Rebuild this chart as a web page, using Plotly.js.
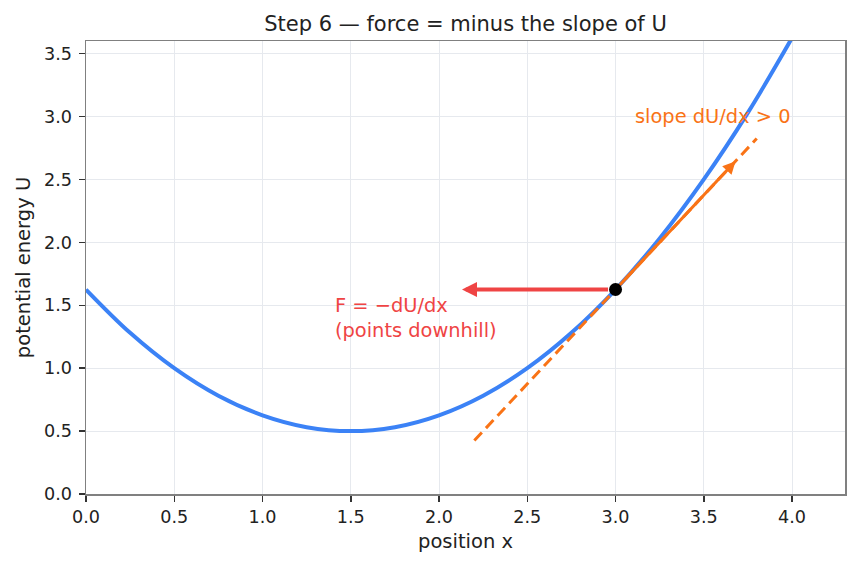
<!DOCTYPE html>
<html>
<head>
<meta charset="utf-8">
<script src="https://cdn.plot.ly/plotly-3.0.1.min.js"></script>
<style>
  html, body { margin: 0; padding: 0; background: #ffffff; }
  #chart { width: 859px; height: 567px; }
</style>
</head>
<body>
<div id="chart"></div>
<script>
// Potential energy curve U(x), sampled every 0.25
const positionX = [0.0, 0.25, 0.5, 0.75, 1.0, 1.25, 1.5, 1.75, 2.0, 2.25, 2.5, 2.75, 3.0, 3.25, 3.5, 3.75, 4.0];
const energyU   = [1.625, 1.281, 1.0, 0.781, 0.625, 0.531, 0.5, 0.531, 0.625, 0.781, 1.0, 1.281, 1.625, 2.031, 2.5, 3.031, 3.625];

// Tangent line at the marked point (slope 1.5)
const tangentX = [2.2, 3.8];
const tangentU = [0.425, 2.825];

// Marked point on the curve
const pointX = [3.0];
const pointU = [1.625];

// Arrow tips: slope direction (along tangent) and force (downhill)
const slopeTip = [3.68, 2.645];
const forceTip = [2.13, 1.625];

// Text labels
const slopeLabel = 'slope dU/dx > 0';
const forceLabel = 'F = −dU/dx<br>(points downhill)';
const xTicks = [0.0, 0.5, 1.0, 1.5, 2.0, 2.5, 3.0, 3.5, 4.0];
const yTicks = [0.0, 0.5, 1.0, 1.5, 2.0, 2.5, 3.0, 3.5];

const BLUE = '#3b82f6';
const ORANGE = '#f97316';
const RED = '#ef4444';
const FONT = 'DejaVu Sans, sans-serif';

const traces = [
  {
    x: positionX, y: energyU, type: 'scatter', mode: 'lines',
    line: { color: BLUE, width: 4, shape: 'spline', smoothing: 1 },
    hoverinfo: 'skip', cliponaxis: true
  },
  {
    x: tangentX, y: tangentU, type: 'scatter', mode: 'lines',
    line: { color: ORANGE, width: 3, dash: '11px,6px' },
    hoverinfo: 'skip'
  },
  {
    x: pointX, y: pointU, type: 'scatter', mode: 'markers',
    marker: { color: '#000000', size: 13 },
    hoverinfo: 'skip'
  }
];

const axisCommon = {
  showline: true, mirror: true, linecolor: '#808080', linewidth: 1.5,
  ticks: 'outside', ticklen: 6, tickwidth: 1.5, tickcolor: '#333333',
  showgrid: true, gridcolor: '#e6e9ee', gridwidth: 1,
  zeroline: false, tickformat: '.1f',
  tickfont: { family: FONT, size: 17.6, color: '#222222' }
};

const layout = {
  width: 859, height: 567,
  margin: { l: 86, r: 14, t: 41, b: 73 },
  paper_bgcolor: '#ffffff', plot_bgcolor: '#ffffff',
  showlegend: false,
  font: { family: FONT, color: '#222222' },
  title: {
    text: 'Step 6 — force = minus the slope of U',
    font: { family: FONT, size: 21, color: '#222222' },
    x: 0.5, xref: 'paper', xanchor: 'center',
    y: 0.958, yref: 'container', yanchor: 'middle'
  },
  xaxis: Object.assign({}, axisCommon, {
    range: [0, 4.3], tickvals: xTicks,
    title: { text: 'position x', font: { family: FONT, size: 19.5, color: '#222222' }, standoff: 8 }
  }),
  yaxis: Object.assign({}, axisCommon, {
    range: [0, 3.6], tickvals: yTicks, ticklabelstandoff: 3,
    title: { text: 'potential energy U', font: { family: FONT, size: 19.5, color: '#222222' }, standoff: 8 }
  }),
  annotations: [
    {
      x: slopeTip[0], y: slopeTip[1], ax: pointX[0], ay: pointU[0],
      xref: 'x', yref: 'y', axref: 'x', ayref: 'y',
      text: '', showarrow: true, arrowhead: 2, arrowsize: 0.85, arrowwidth: 3,
      arrowcolor: ORANGE, standoff: 0, startstandoff: 6
    },
    {
      x: forceTip[0], y: forceTip[1], ax: pointX[0], ay: pointU[0],
      xref: 'x', yref: 'y', axref: 'x', ayref: 'y',
      text: '', showarrow: true, arrowhead: 2, arrowsize: 0.75, arrowwidth: 4,
      arrowcolor: RED, standoff: 0, startstandoff: 6
    },
    {
      x: 3.1, y: 3.0, xref: 'x', yref: 'y', xanchor: 'left', yanchor: 'middle',
      text: slopeLabel, showarrow: false,
      font: { family: FONT, size: 19.4, color: ORANGE }
    },
    {
      x: 1.4, y: 1.40, xref: 'x', yref: 'y', xanchor: 'left', yanchor: 'middle',
      align: 'left', text: forceLabel, showarrow: false,
      font: { family: FONT, size: 19.4, color: RED }
    }
  ]
};

Plotly.newPlot('chart', traces, layout, { staticPlot: true, displayModeBar: false });
</script>
</body>
</html>
